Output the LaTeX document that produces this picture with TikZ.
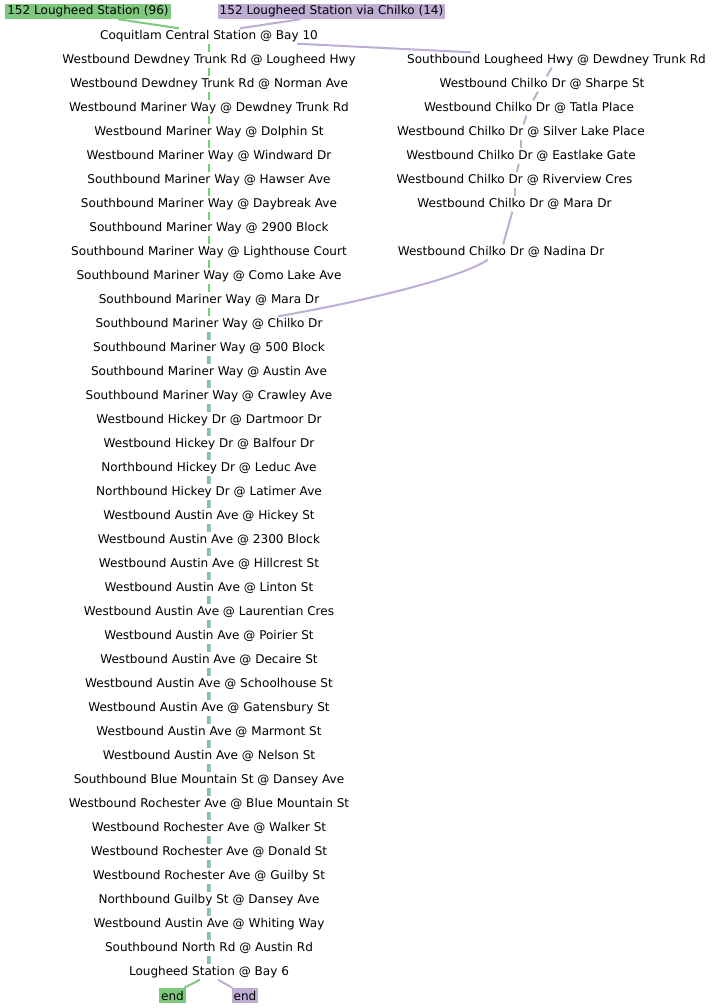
\documentclass[tikz,border=0pt]{standalone}
\usepackage{fontspec}
\setmainfont{DejaVu Sans}
\definecolor{gr}{HTML}{7FC97F}
\definecolor{pu}{HTML}{BEAED4}
\begin{document}
\begin{tikzpicture}[x=1bp,y=-1bp,
  stop/.style={inner xsep=2bp, inner ysep=0pt, minimum height=15bp, font=\fontsize{12.1}{14}\selectfont},
  gbox/.style={stop, fill=gr},
  pbox/.style={stop, fill=pu},
  gline/.style={draw=gr, line width=2bp},
  pline/.style={draw=pu, line width=2bp}]
\useasboundingbox (0,0) rectangle (714,1008);
% route boxes
\node[gbox] (G0) at (88,11.5) {152 Lougheed Station (96)};
\node[pbox] (P0) at (331.5,11.5) {152 Lougheed Station via Chilko (14)};
% left column
\foreach \t [count=\i] in {Coquitlam Central Station @ Bay 10,
  Westbound Dewdney Trunk Rd @ Lougheed Hwy,
  Westbound Dewdney Trunk Rd @ Norman Ave,
  Westbound Mariner Way @ Dewdney Trunk Rd,
  Westbound Mariner Way @ Dolphin St,
  Westbound Mariner Way @ Windward Dr,
  Southbound Mariner Way @ Hawser Ave,
  Southbound Mariner Way @ Daybreak Ave,
  Southbound Mariner Way @ 2900 Block,
  Southbound Mariner Way @ Lighthouse Court,
  Southbound Mariner Way @ Como Lake Ave,
  Southbound Mariner Way @ Mara Dr,
  Southbound Mariner Way @ Chilko Dr,
  Southbound Mariner Way @ 500 Block,
  Southbound Mariner Way @ Austin Ave,
  Southbound Mariner Way @ Crawley Ave,
  Westbound Hickey Dr @ Dartmoor Dr,
  Westbound Hickey Dr @ Balfour Dr,
  Northbound Hickey Dr @ Leduc Ave,
  Northbound Hickey Dr @ Latimer Ave,
  Westbound Austin Ave @ Hickey St,
  Westbound Austin Ave @ 2300 Block,
  Westbound Austin Ave @ Hillcrest St,
  Westbound Austin Ave @ Linton St,
  Westbound Austin Ave @ Laurentian Cres,
  Westbound Austin Ave @ Poirier St,
  Westbound Austin Ave @ Decaire St,
  Westbound Austin Ave @ Schoolhouse St,
  Westbound Austin Ave @ Gatensbury St,
  Westbound Austin Ave @ Marmont St,
  Westbound Austin Ave @ Nelson St,
  Southbound Blue Mountain St @ Dansey Ave,
  Westbound Rochester Ave @ Blue Mountain St,
  Westbound Rochester Ave @ Walker St,
  Westbound Rochester Ave @ Donald St,
  Westbound Rochester Ave @ Guilby St,
  Northbound Guilby St @ Dansey Ave,
  Westbound Austin Ave @ Whiting Way,
  Southbound North Rd @ Austin Rd,
  Lougheed Station @ Bay 6}
  \node[stop] (L\i) at (209,{36+24*(\i-1)}) {\t};
% right column
\node[stop] (R1) at (556.5,60) {Southbound Lougheed Hwy @ Dewdney Trunk Rd};
\node[stop] (R2) at (542,84) {Westbound Chilko Dr @ Sharpe St};
\node[stop] (R3) at (529,108) {Westbound Chilko Dr @ Tatla Place};
\node[stop] (R4) at (521,132) {Westbound Chilko Dr @ Silver Lake Place};
\node[stop] (R5) at (521,156) {Westbound Chilko Dr @ Eastlake Gate};
\node[stop] (R6) at (514.5,180) {Westbound Chilko Dr @ Riverview Cres};
\node[stop] (R7) at (514.5,204) {Westbound Chilko Dr @ Mara Dr};
\node[stop] (R8) at (501,252) {Westbound Chilko Dr @ Nadina Dr};
% end boxes
\node[gbox] (GE) at (172.5,995.5) {end};
\node[pbox] (PE) at (245,995.5) {end};
% green route
\draw[gline] ([xshift=30bp]G0.south) -- ([xshift=-30bp]L1.north);
\foreach \i in {1,...,12}{\pgfmathtruncatemacro\j{\i+1}
  \draw[gline] (L\i.south) -- (L\j.north);}
\foreach \i in {13,...,39}{\pgfmathtruncatemacro\j{\i+1}
  \draw[gline] ([xshift=-1.1bp]L\i.south) -- ([xshift=-1.1bp]L\j.north);
  \draw[pline] ([xshift=0.9bp]L\i.south) -- ([xshift=0.9bp]L\j.north);}
\draw[gline] ([xshift=-9bp]L40.south) -- ([xshift=-2bp]GE.north east);
% purple route
\draw[pline] ([xshift=-31bp]P0.south) -- ([xshift=31bp]L1.north);
\draw[pline] ([xshift=88bp]L1.south) -- ([xshift=66bp]R1.north west);
\foreach \i in {1,...,7}{\pgfmathtruncatemacro\j{\i+1}
  \draw[pline] (R\i) -- (R\j);}
\draw[pline] ([xshift=-13bp]R8.south) .. controls +(-30,20) and +(70,-12) .. ([xshift=69bp]L13.north);
\draw[pline] ([xshift=9bp]L40.south) -- ([xshift=1bp]PE.north west);
\end{tikzpicture}
\end{document}
